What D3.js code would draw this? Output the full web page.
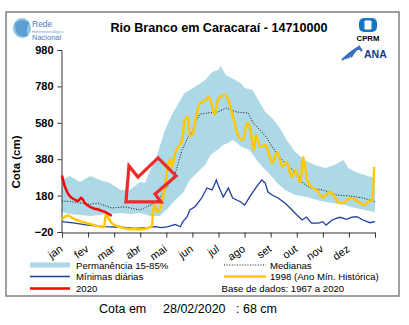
<!DOCTYPE html>
<html><head><meta charset="utf-8">
<script src="https://cdn.jsdelivr.net/npm/d3@7"></script>
<style>
body{margin:0;background:#fff;}
svg{display:block;font-family:"Liberation Sans",Arial,sans-serif;}
</style></head>
<body>
<svg id="c" width="409" height="325"></svg>
<script>
// ---- data (day of year, cota in cm) ----
const months = ["jan","fev","mar","abr","mai","jun","jul","ago","set","out","nov","dez"];
const yTicks = [-20,180,380,580,780,980];

const bandUpper = [[0,266],[9,288],[21,255],[33,288],[44,266],[56,249],[68,211],[79,211],[91,255],[97,249],[103,321],[111,403],[120,540],[128,623],[138,705],[143,744],[155,777],[167,815],[175,859],[182,870],[185,892],[191,843],[202,815],[208,799],[213,771],[222,760],[229,705],[237,639],[245,606],[254,551],[262,485],[272,420],[283,376],[295,348],[307,332],[318,348],[328,376],[334,332],[342,310],[353,293],[365,277]];
const bandLower = [[0,90],[9,79],[21,73],[33,68],[44,73],[56,79],[68,84],[79,79],[91,84],[103,68],[114,68],[124,112],[132,156],[141,194],[149,266],[157,304],[167,348],[173,403],[181,431],[188,458],[194,469],[199,485],[210,447],[219,431],[227,376],[234,337],[243,293],[251,249],[260,211],[272,183],[286,172],[301,150],[316,139],[330,128],[342,112],[353,101],[365,90]];
const medianas = [[0,150],[9,148],[21,140],[33,132],[42,139],[50,125],[58,112],[73,118],[91,101],[103,128],[108,139],[114,167],[120,210],[124,238],[132,300],[140,431],[147,502],[152,530],[155,579],[161,628],[170,634],[181,639],[192,661],[204,639],[217,634],[223,579],[231,540],[239,496],[246,442],[254,392],[262,348],[274,304],[281,249],[289,222],[304,211],[321,183],[336,178],[351,167],[365,146]];
const minimas = [[0,37],[15,29],[30,18],[50,9],[70,6],[85,0],[100,4],[108,9],[116,4],[124,9],[132,22],[138,9],[141,37],[146,64],[149,101],[155,119],[163,167],[169,222],[175,211],[180,266],[182,238],[188,172],[194,222],[199,167],[208,146],[213,128],[219,174],[227,229],[233,266],[237,249],[240,201],[245,183],[252,167],[260,139],[266,112],[274,73],[280,46],[285,62],[291,29],[299,29],[304,37],[308,18],[315,46],[320,55],[324,61],[332,50],[338,61],[344,64],[351,46],[359,31],[365,37]];
const ano1998 = [[0,46],[3,62],[7,70],[12,57],[21,40],[33,24],[44,10],[49,7],[51,73],[54,57],[58,29],[68,7],[79,-4],[91,-6],[100,2],[105,13],[106,84],[108,128],[112,90],[114,101],[117,156],[120,227],[124,359],[126,376],[128,337],[132,414],[135,442],[140,485],[143,595],[147,612],[149,507],[152,513],[155,579],[157,623],[161,689],[164,694],[169,711],[171,722],[175,672],[178,623],[181,694],[184,722],[190,733],[194,705],[199,623],[205,513],[211,485],[216,579],[219,557],[222,469],[224,431],[226,513],[231,447],[237,458],[240,431],[245,359],[251,420],[257,337],[262,365],[268,282],[272,321],[278,249],[281,392],[286,266],[292,222],[297,211],[304,172],[313,200],[318,172],[324,139],[330,145],[336,167],[342,156],[348,139],[353,128],[357,145],[362,156],[364,337]];
const ano2020 = [[0,290],[3,235],[6,200],[9,178],[12,165],[15,158],[18,152],[20,155],[22,168],[24,160],[27,138],[30,126],[34,115],[38,108],[42,104],[46,97],[50,90],[53,82],[56,75],[58,68]];
const arrowPts = [[74.6,145],[78.1,343],[88.6,282],[112,387],[133,288],[108.5,189],[115.5,145]];

const svg = d3.select("#c");
const x = d3.scaleLinear().domain([0,365]).range([62,375]);
const y = d3.scaleLinear().domain([-20,980]).range([232,50]);

// frame
svg.append("rect").attr("x",6).attr("y",12).attr("width",393).attr("height",284)
  .attr("fill","none").attr("stroke","#808080").attr("stroke-width",1.5);

// title
svg.append("text").attr("x",219).attr("y",32).attr("text-anchor","middle")
  .attr("font-size",12.6).attr("font-weight","bold").text("Rio Branco em Caracaraí - 14710000");

// band
const ln = d3.line().x(d=>x(d[0])).y(d=>y(d[1]));
svg.append("path").attr("d", ln(bandUpper.concat(bandLower.slice().reverse())) + "Z")
  .attr("fill","#add8e6").attr("stroke","none");

// axes
const yAxis = svg.append("g").attr("transform","translate(61.5,0)")
  .call(d3.axisLeft(y).tickValues(yTicks).tickSize(4).tickPadding(4));
yAxis.selectAll("text").attr("font-size",11).attr("font-weight","bold").attr("font-family","Liberation Sans, Arial, sans-serif").attr("fill","#000");
yAxis.selectAll("line,path").attr("stroke","#333");

const monthTicks = d3.range(13).map(i=>i*365/12);
const xAxis = svg.append("g").attr("transform","translate(0,232.5)")
  .call(d3.axisBottom(x).tickValues(monthTicks).tickSize(5).tickFormat((d,i)=>months[i]||""));
xAxis.selectAll("line,path").attr("stroke","#333");
xAxis.selectAll("text").attr("font-size",11).attr("font-family","Liberation Sans, Arial, sans-serif").attr("fill","#000")
  .attr("text-anchor","end").attr("dy",0).attr("y",0)
  .attr("transform","translate(1,18) rotate(-35)");

svg.append("text").attr("transform","translate(19.5,162) rotate(-90)").attr("text-anchor","middle")
  .attr("font-size",11.5).attr("font-weight","bold").text("Cota (cm)");

// series
svg.append("path").attr("d",ln(medianas)).attr("fill","none").attr("stroke","#111")
  .attr("stroke-width",1).attr("stroke-dasharray","1,1.6");
svg.append("path").attr("d",ln(minimas)).attr("fill","none").attr("stroke","#1f3f9e").attr("stroke-width",1.3);
const sm = d3.line().x(d=>x(d[0])).y(d=>y(d[1])).curve(d3.curveMonotoneX);
svg.append("path").attr("d",sm(ano1998)).attr("fill","none").attr("stroke","#ffc800").attr("stroke-width",2.5);
svg.append("path").attr("d",sm(ano2020)).attr("fill","none").attr("stroke","#f00").attr("stroke-width",2.5);

// arrow annotation
svg.append("path").attr("d",ln(arrowPts)+"Z").attr("fill","none").attr("stroke","#ee2a2a")
  .attr("stroke-width",3.2).attr("stroke-linejoin","miter");

// legend
const lg = svg.append("g").attr("font-size",9.6);
lg.append("rect").attr("x",30).attr("y",262.5).attr("width",40).attr("height",5).attr("fill","#add8e6");
lg.append("text").attr("x",76).attr("y",268.5).text("Permanência 15-85%");
lg.append("line").attr("x1",30).attr("x2",70).attr("y1",276.5).attr("y2",276.5).attr("stroke","#1f3f9e").attr("stroke-width",1.3);
lg.append("text").attr("x",76).attr("y",280).text("Mínimas diárias");
lg.append("line").attr("x1",30).attr("x2",70).attr("y1",288.5).attr("y2",288.5).attr("stroke","#f00").attr("stroke-width",2.5);
lg.append("text").attr("x",76).attr("y",291.5).text("2020");
lg.append("line").attr("x1",224).attr("x2",266).attr("y1",265).attr("y2",265).attr("stroke","#111").attr("stroke-dasharray","1,1.6");
lg.append("text").attr("x",270).attr("y",268.5).text("Medianas");
lg.append("line").attr("x1",224).attr("x2",266).attr("y1",276.5).attr("y2",276.5).attr("stroke","#ffc800").attr("stroke-width",2.5);
lg.append("text").attr("x",270).attr("y",280).text("1998 (Ano Mín. Histórica)");
lg.append("text").attr("x",221.5).attr("y",291.5).text("Base de dados: 1967 a 2020");

// footer
const ft = svg.append("g").attr("font-size",12.5);
ft.append("text").attr("x",99).attr("y",312.5).text("Cota em");
ft.append("text").attr("x",163).attr("y",312.5).text("28/02/2020");
ft.append("text").attr("x",236).attr("y",312.5).text(": 68 cm");

// logos (simplified)
const L = svg.append("g");
L.append("ellipse").attr("cx",22).attr("cy",28).attr("rx",9).attr("ry",10).attr("fill","#8cc4e0");
L.append("path").attr("d","M15,24 Q22,17 29,23 Q25,30 28,36 Q20,38 16,32 Z").attr("fill","#5a9fcf");
L.append("text").attr("x",32).attr("y",26.5).attr("font-size",8.5).attr("fill","#4a7cc0").text("Rede");
L.append("text").attr("x",32).attr("y",32.5).attr("font-size",3.6).attr("fill","#6aa0d8").text("Hidrometeorológica");
L.append("text").attr("x",32).attr("y",39.5).attr("font-size",7.5).attr("fill","#4a7cc0").text("Nacional");

const C = svg.append("g");
C.append("rect").attr("x",359).attr("y",18).attr("width",18).attr("height",14).attr("rx",5).attr("fill","#1677c2");
C.append("rect").attr("x",364.5).attr("y",20.5).attr("width",7).attr("height",9).attr("rx",1).attr("fill","#fff");
C.append("text").attr("x",368).attr("y",40.5).attr("text-anchor","middle").attr("font-size",7.8).attr("font-weight","bold").text("CPRM");
const A = svg.append("g");
[0,3,6,9].forEach(o=>{
  A.append("path").attr("d",`M${342+o},${60-o*0.3} Q${350+o},${52-o} ${360+o*0.2},${46+o*0.6}`)
   .attr("fill","none").attr("stroke","#3a6fc0").attr("stroke-width",2);
});
A.append("text").attr("x",364).attr("y",57.5).attr("font-size",10.5).attr("font-weight","bold").attr("fill","#1b3a8c").text("ANA");
</script>
</body></html>
